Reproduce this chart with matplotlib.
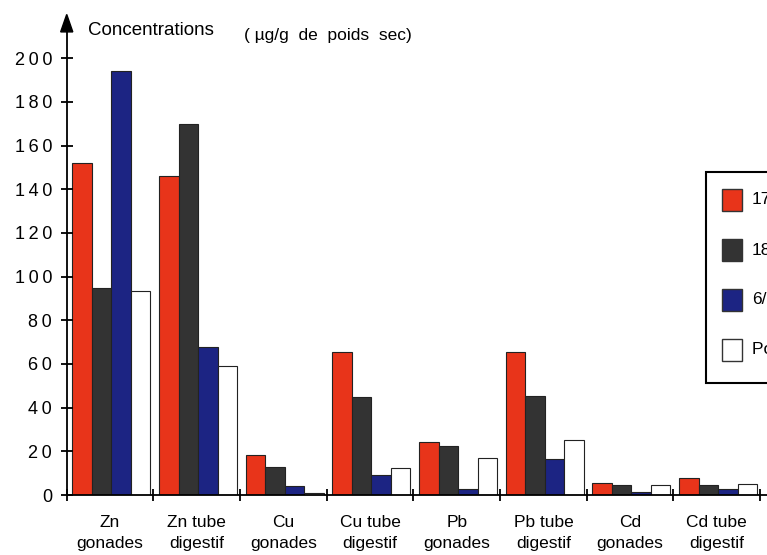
import matplotlib.pyplot as plt
from matplotlib.patches import Rectangle, Polygon

plt.rcParams['font.family'] = ['Liberation Sans', 'DejaVu Sans']

# concentrations (µg/g de poids sec)
organes = ['Zn\ngonades', 'Zn tube\ndigestif', 'Cu\ngonades', 'Cu tube\ndigestif',
           'Pb\ngonades', 'Pb tube\ndigestif', 'Cd\ngonades', 'Cd tube\ndigestif']
serie_1 = [152, 146, 18.5, 65.5, 24.5, 65.5, 5.5, 7.8]
serie_2 = [95, 170, 13, 45, 22.3, 45.3, 4.6, 4.6]
serie_3 = [194, 68, 4.3, 9.2, 2.7, 16.3, 1.4, 2.6]
serie_4 = [93.5, 59, 1, 12.2, 16.8, 25.2, 4.6, 4.9]
graduations = [0, 20, 40, 60, 80, 100, 120, 140, 160, 180, 200]
legende = ['17/04/92', '18/06/92', '6/08/92', 'Point de référence']

couleurs = ['#E8341A', '#333333', '#1C2483', 'white']
series = [serie_1, serie_2, serie_3, serie_4]

fig = plt.figure(figsize=(7.67, 5.55), dpi=100)
ax = fig.add_axes([0.087, 0.108, 0.913, 0.866])

w = 0.225
for k, (vals, c) in enumerate(zip(series, couleurs)):
    x = [i + 0.065 + w * k for i in range(len(organes))]
    ax.bar(x, vals, width=w, align='edge', color=c, edgecolor='#222222', linewidth=0.8)

ax.set_xlim(0, 8.08)
ax.set_ylim(0, 220)
for s in ['top', 'right']:
    ax.spines[s].set_visible(False)
ax.spines['left'].set_bounds(0, 214)
ax.spines['left'].set_linewidth(1.3)
ax.spines['bottom'].set_linewidth(1.3)

# flèche en haut de l'axe des ordonnées
ax.add_patch(Polygon([[-0.07, 212], [0.07, 212], [0, 220]], closed=True,
                     color='black', clip_on=False))

# chiffres espacés comme sur la figure d'origine
ax.set_yticks(graduations)
ax.set_yticklabels(['\u2009'.join(str(g)) for g in graduations])
ax.tick_params(axis='y', direction='inout', length=9, width=1.3, labelsize=13, pad=6)
ax.set_xticks(range(0, 9))
ax.set_xticklabels([])
ax.tick_params(axis='x', direction='inout', length=9, width=1.3)
for i, lab in enumerate(organes):
    ax.text(i + 0.5, -9, lab, ha='center', va='top', fontsize=12.5, linespacing=1.55)

ax.text(0.25, 212.5, 'Concentrations', fontsize=13.5, va='center')
ax.text(2.05, 210.5, '( µg/g  de  poids  sec)', fontsize=12.5, va='center')

# légende
fig.patches.append(Rectangle((706 / 767, 1 - 383 / 555), 0.2, (383 - 172) / 555,
                             transform=fig.transFigure, facecolor='white',
                             edgecolor='black', linewidth=1.5))
for k, (c, lab) in enumerate(zip(couleurs, legende)):
    y = 200 + 50 * k
    fig.patches.append(Rectangle((722 / 767, 1 - (y + 11) / 555), 20 / 767, 22 / 555,
                                 transform=fig.transFigure, facecolor=c,
                                 edgecolor='#333333', linewidth=1))
    fig.text(752 / 767, 1 - y / 555, lab, fontsize=12.5, va='center')

fig.savefig('out.png', dpi=100)
